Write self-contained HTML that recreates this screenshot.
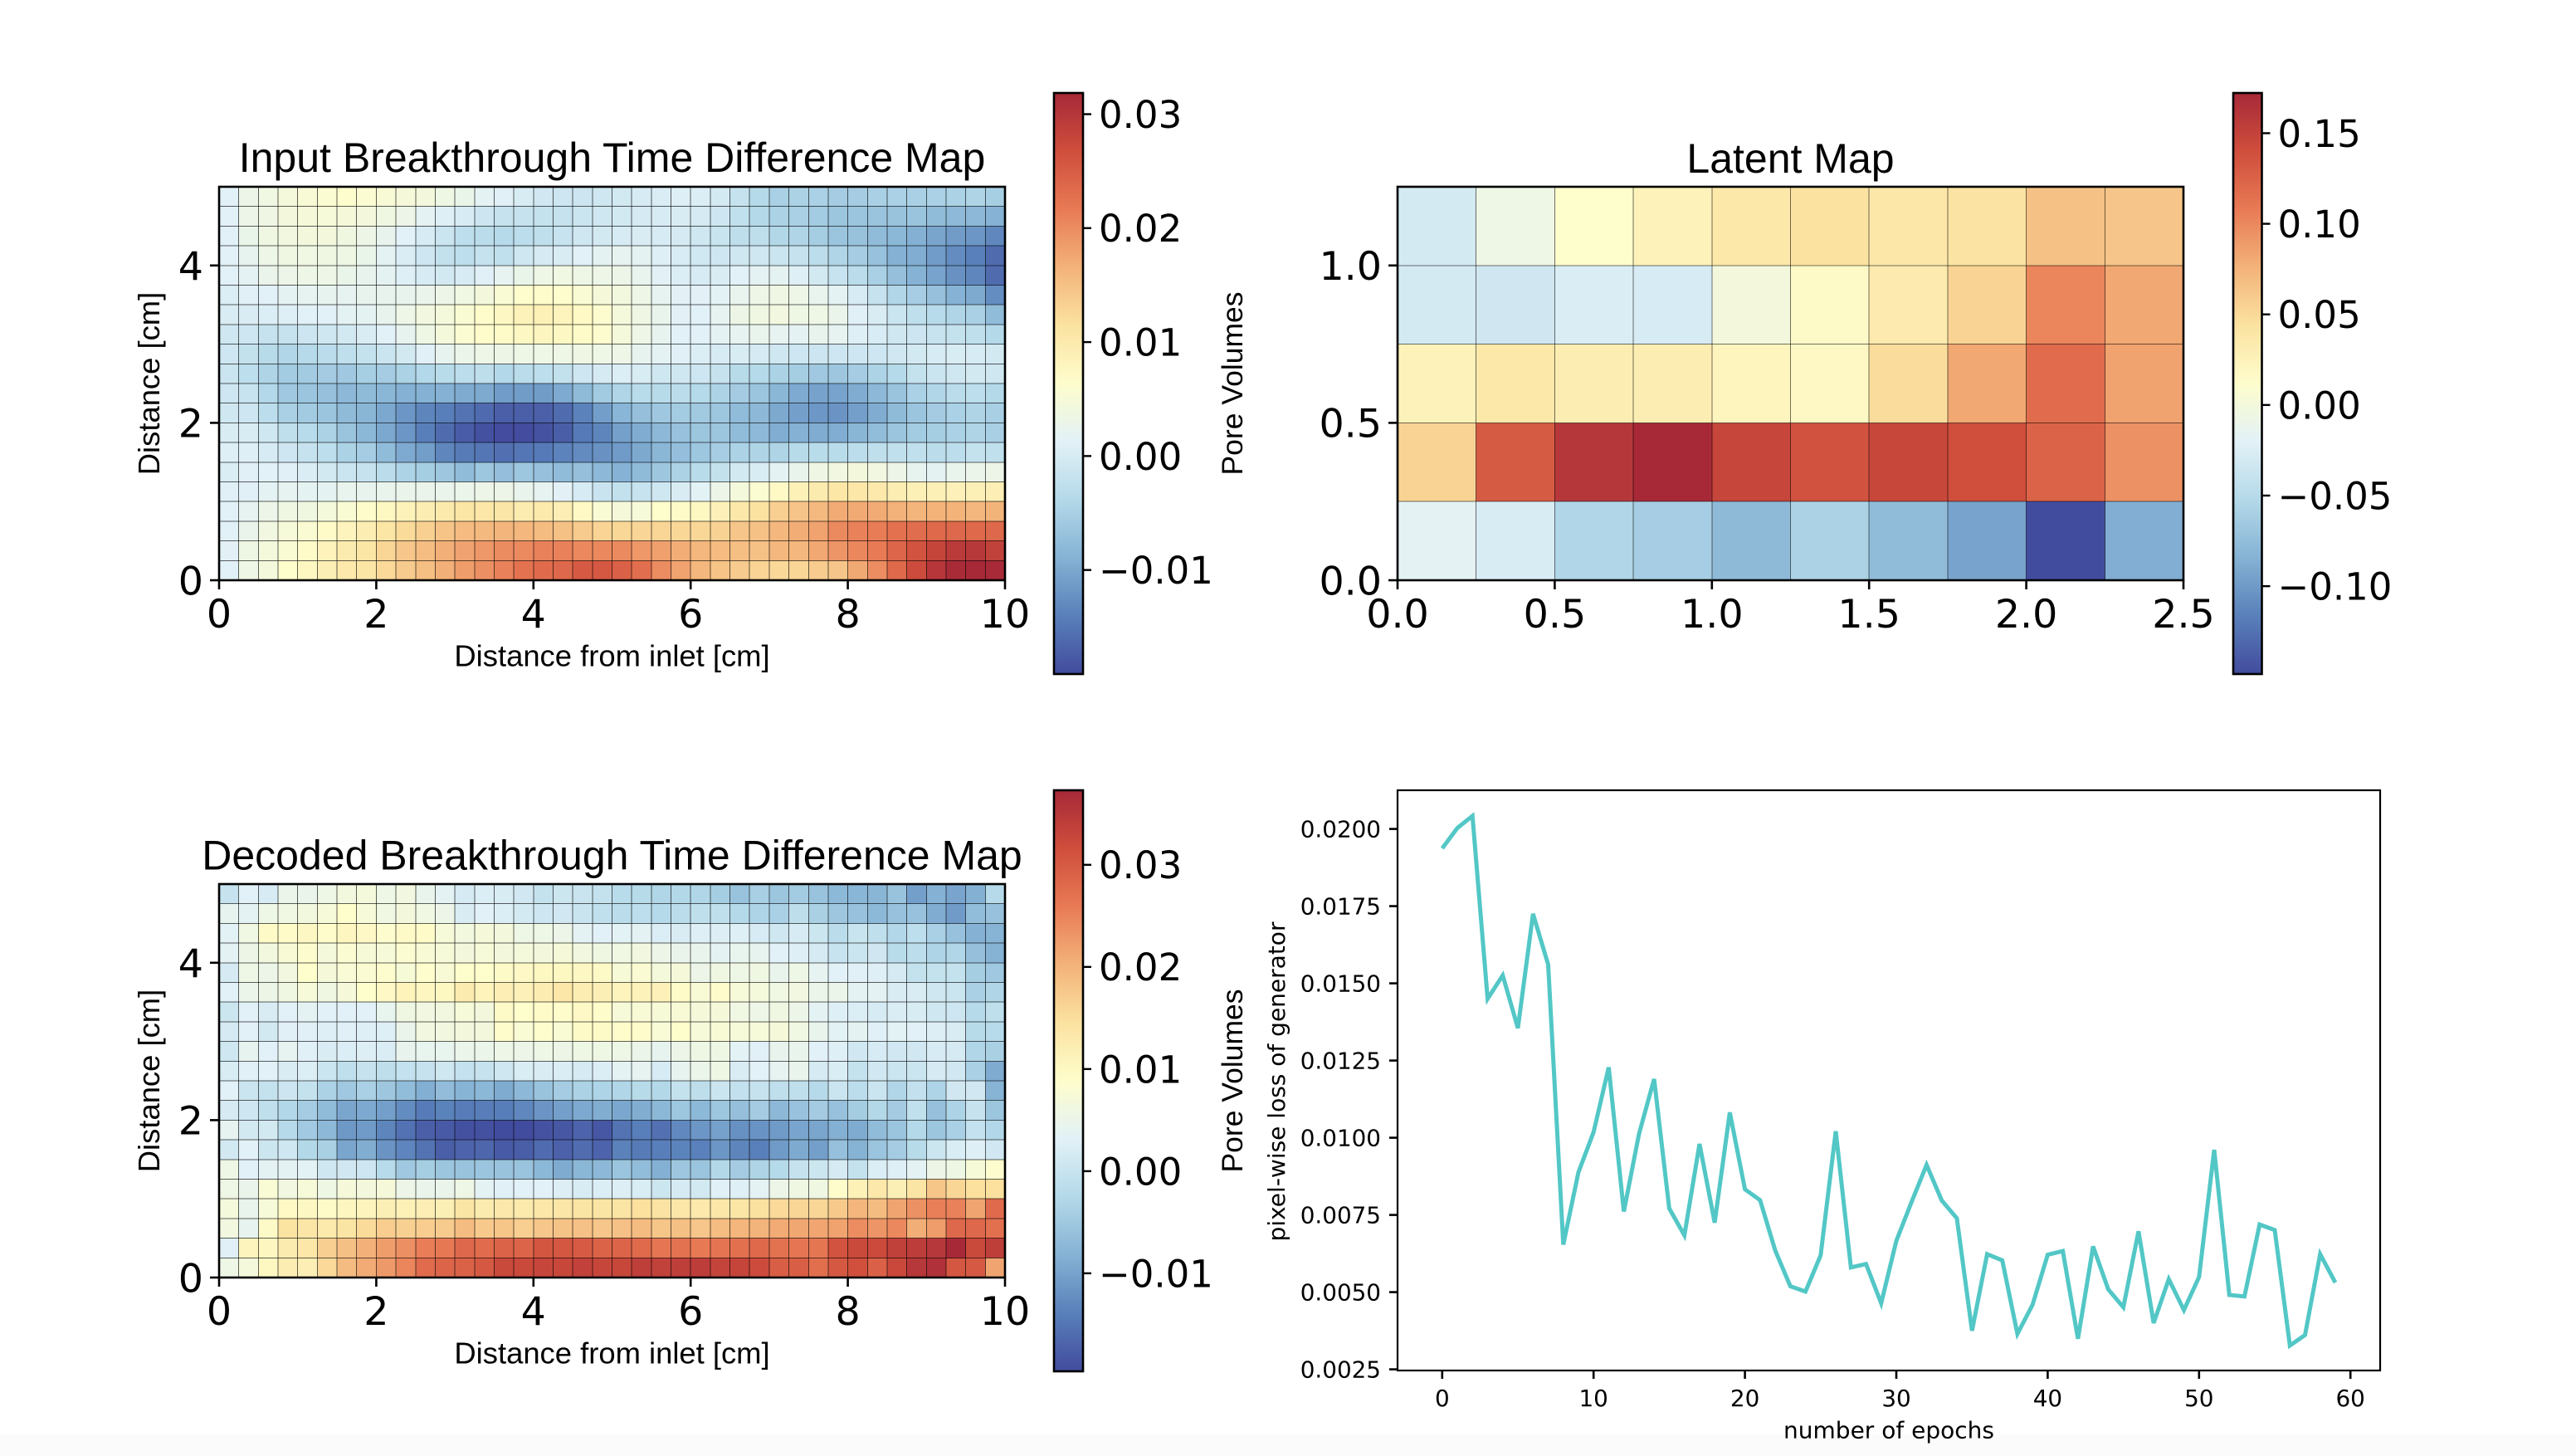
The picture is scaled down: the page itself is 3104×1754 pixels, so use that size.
<!DOCTYPE html>
<html lang="en">
<head>
<meta charset="utf-8">
<title>Breakthrough Time Difference Maps</title>
<style>
html,body{margin:0;padding:0;background:#fff;}
svg{display:block;}
.djv{font-family:"DejaVu Sans",sans-serif;fill:#000;}
.lib{font-family:"Liberation Sans",Arial,sans-serif;fill:#000;}
</style>
</head>
<body>
<svg id="figure" xmlns="http://www.w3.org/2000/svg" width="3104" height="1754" viewBox="0 0 3104 1754">
  <rect x="0" y="0" width="3104" height="1754" fill="#ffffff"/>
  <rect x="0" y="1728" width="3104" height="26" fill="#fbfbfb"/>
  <defs id="gradients"></defs>

  <g id="panel-input">
    <text class="lib" x="737.5" y="207" font-size="50" text-anchor="middle">Input Breakthrough Time Difference Map</text>
    <text class="lib" x="737.5" y="802.5" font-size="36.4" text-anchor="middle">Distance from inlet [cm]</text>
    <text class="lib" transform="translate(192,462) rotate(-90)" font-size="36.4" text-anchor="middle">Distance [cm]</text>
    <text class="lib" transform="translate(1497,462) rotate(-90)" font-size="35.5" text-anchor="middle">Pore Volumes</text>
  </g>

  <g id="panel-latent">
    <text class="lib" x="2157.5" y="208" font-size="50" text-anchor="middle">Latent Map</text>
  </g>

  <g id="panel-decoded">
    <text class="lib" x="737.5" y="1047.5" font-size="50" text-anchor="middle">Decoded Breakthrough Time Difference Map</text>
    <text class="lib" x="737.5" y="1642.5" font-size="36.4" text-anchor="middle">Distance from inlet [cm]</text>
    <text class="lib" transform="translate(192,1302) rotate(-90)" font-size="36.4" text-anchor="middle">Distance [cm]</text>
    <text class="lib" transform="translate(1497,1302) rotate(-90)" font-size="35.5" text-anchor="middle">Pore Volumes</text>
  </g>

  <g id="panel-loss">
    <text class="djv" x="2276" y="1732.5" font-size="28" text-anchor="middle">number of epochs</text>
    <text class="djv" transform="translate(1548,1303) rotate(-90)" font-size="28" text-anchor="middle">pixel-wise loss of generator</text>
  </g>
</svg>

<script>
// ---------- chart data ----------
// Input map, rows listed top to bottom, values in 0.001 pore volumes
const inputMapValues = [
[1.3,3,3.8,4.6,5.2,5.8,6.2,5.8,5.3,4.7,4.3,3.5,2.8,1.6,1.1,.2,-.6,-1,-1.2,-.9,-.5,0,.4,.8,.6,-.3,-2,-3.7,-5,-4.7,-4.9,-5.5,-5.5,-5,-4.9,-5,-4.9,-4.8,-4.5,-5.2],
[1.3,3,3.6,4.4,4.8,5,4.7,4.4,3.7,3,1.7,.8,-.1,-1.2,-2,-1.9,-2.1,-2,-1.3,-.8,-.5,-.2,0,.2,-.2,-1,-2.4,-3.8,-4.8,-5,-5.7,-6.4,-6.5,-6.7,-6.8,-6.7,-7.6,-8,-8.1,-8.8],
[1.3,2.8,3.7,4.1,4.3,4.4,3.9,3.3,2.3,1.2,-.1,-1.4,-2.8,-3.2,-3.6,-3,-2.5,-1.8,-.8,-.4,0,.3,0,-.2,-.9,-1.6,-2.7,-2.7,-4,-4.3,-5.3,-6.5,-6.9,-7.7,-8.2,-9.1,-10.3,-11.2,-11.8,-13.2],
[1.3,2.2,3.2,3.7,3.8,3.7,3.5,2.8,1.7,.4,-1,-2.2,-2.8,-2,-2.4,-.8,-.2,.3,1.2,1.9,2.1,1.9,.9,.1,-.7,-1,-.8,-.9,-1.4,-2,-3,-4.3,-5.5,-7,-9,-9.4,-11.3,-12.8,-14,-16],
[1.3,1.7,2.7,3,3.2,3.2,2.8,2.3,1.8,.9,0,-.4,0,1,2.1,2.8,3.4,3.8,3.4,3.2,3,2.4,1.4,.6,0,.3,1.2,1.7,1.8,.8,-.4,-1.8,-3.2,-5,-7.2,-8.8,-10.5,-12.2,-13.3,-16],
[.5,1.1,1.3,1.9,2,2.2,2.1,2.3,2.3,2.3,2.7,3.1,3.8,4.3,5.4,6.3,6.6,6.2,5.4,4.8,4.2,3.2,2,1.4,1.4,1.5,2.4,3.2,3.6,3.2,2.4,1.7,-.1,-1.9,-4.2,-5.4,-7.1,-8.8,-9.7,-12.7],
[.3,.3,.6,.9,1.2,1.2,1.7,1.8,2.3,3.2,4.1,4.6,5.5,6.5,7.4,8.4,8.7,8.2,7.2,6,4.6,3.6,2.5,1.4,1.2,2,3.3,3.7,4.1,3.5,3.4,2.7,1.1,.3,-1.3,-2.5,-3.5,-4.4,-5,-7.6],
[-.8,-1,-1.9,-2,-1.2,-.8,-.4,.3,1.2,2.2,3.5,4.5,5.8,6.5,6.8,7.4,7.8,7.4,6.8,6,4.6,3.2,2.2,1.3,1.3,1.7,2,2.6,2.1,1.7,2.3,2,.9,.1,-.8,-1.2,-1.8,-2.1,-2.6,-3.8],
[-1,-2.2,-3.4,-4.2,-3.6,-3.2,-2.6,-2.1,-1.3,-.4,1,2.2,2.9,3.2,3.3,3.4,3.4,3.4,3.6,3.4,3.2,2.2,1.6,1,.6,0,.2,-.2,-.8,-1.1,-1.2,-1,-1,-1.1,-.6,-.4,0,.2,0,-.5],
[-1.4,-2.8,-4.5,-5.7,-5.8,-5.6,-6,-5.2,-5.5,-4.8,-3.9,-3.3,-2.9,-2.7,-3.9,-3.2,-2.8,-2.2,-1,-.2,.5,.2,-.8,-.8,-1,-2,-3.4,-3.7,-4.8,-5.3,-6,-6.2,-5.5,-4.6,-3.7,-2.1,-1.3,-.8,-.5,-.9],
[-1,-1.7,-3.9,-6,-6.5,-7.1,-8.1,-7.8,-8.3,-9,-8.9,-8.9,-9.6,-9.7,-11.3,-11.2,-11.2,-9.8,-7.8,-5.8,-4.4,-3.3,-3.4,-3.1,-3.7,-4.6,-5.6,-6.5,-8.3,-9.8,-10.6,-10.5,-9.5,-8.1,-6.7,-4.9,-4.2,-3.2,-2.8,-3.8],
[-.8,-1.1,-3,-5,-5.8,-6.5,-7.9,-8.4,-10,-11.8,-13.4,-14.1,-15.3,-16.1,-17.2,-17.2,-17.1,-16,-13.8,-11,-8.5,-7.2,-6.1,-5.7,-5.9,-6.3,-7.7,-8.1,-9.9,-10.9,-11.7,-12,-10.9,-9.5,-7.8,-6.5,-5.6,-4.9,-4.5,-5.1],
[.2,.2,-.8,-2.5,-3.5,-4.8,-6.7,-8.2,-10,-11.8,-14.1,-16,-17.5,-18.6,-19,-19,-18.5,-17.3,-14.6,-13.4,-10.8,-9.5,-8.1,-7,-6.4,-6.4,-7.6,-8,-9.4,-9,-9.5,-9.4,-8.4,-7.5,-6.5,-5.7,-5.3,-4.9,-4.5,-5.1],
[.8,.8,0,-1,-2,-2.8,-4.8,-5.5,-7.7,-9.8,-11,-13.3,-14.5,-15,-15.6,-15,-14.6,-13.7,-12.9,-12.2,-11.4,-9.9,-8.3,-7.3,-6.3,-5.4,-4.8,-4.5,-4.5,-3.4,-3.3,-3.3,-2.9,-2.5,-2.4,-2.4,-3.1,-2.9,-2.1,-2.4],
[.4,1.1,1.2,1,.4,-.5,-1.4,-2,-3.1,-4.6,-5.3,-6.2,-7.6,-6.3,-7.3,-6.3,-7.1,-7.6,-7.2,-8.1,-8.8,-7.8,-6.2,-4.8,-3.3,-2.2,-.5,.2,1.6,2.6,3.6,4,4.3,4,3.1,2.2,1.8,2.5,2.9,3],
[1,1.1,1.7,2,1.9,1.8,2.4,2.3,2.5,2.7,2.7,2.7,2.9,3.1,3,2.5,2,1.4,-.1,-1.5,-2.2,-1.8,-.8,.3,1.5,3.1,4.5,5.8,7.2,8.7,9.8,10.6,10.5,10.2,9.4,8.8,8.8,8.6,8.8,9.2],
[1.2,2,3,3.7,3.9,4.6,5.5,6.6,7.5,8.5,9.3,10,10.8,10.5,10.7,9.6,10.1,9.2,7.2,5.4,4.7,5,6.4,6.8,7.5,8.6,10.4,11.4,13.5,14.6,15.8,17.2,17.3,17.2,16.6,16.2,16.5,16.5,16,16.4],
[1.2,2.7,4,4.9,5.7,6.7,8.1,9.3,10.8,12.2,13.4,14.7,15.6,15.8,16.2,16,15.5,15,14,13,12.6,12.7,12.8,12.6,12.6,13.2,14.5,15,16,17,18,20.3,21,21.5,22.7,23.2,23.6,23.8,23.6,23.8],
[1.4,3.5,4.5,5.5,6.7,8.3,9.7,10.8,12.8,14.4,15.4,16.8,17.9,19,20.1,20.3,21,21,20.4,20.4,20.2,19,18.2,17,16,15.6,15.3,15,16,16,17.5,19.2,20.5,21.6,24,26.2,28,29.4,29.7,28.5],
[1.2,3.4,4.6,6.4,7.5,9,10.2,10.8,12.4,14,15.3,16.8,18.5,19.7,21,22.6,23.4,23.8,25.4,25.6,24.6,23,20,18,16,14.7,14,13,12.5,12.8,13.8,14.5,17.4,20,23.6,27.2,30,31.6,32,31.7]
];

// Decoded map, rows listed top to bottom, values in 0.001 pore volumes
const decodedMapValues = [
[-.4,3.1,1.8,5,4.7,5.6,6.5,6.8,5.5,6.2,4.5,3.5,1.5,2.4,1.9,1,-.5,.5,.1,-.6,-1.9,-2,-3,-2.7,-3,-4.2,-5.8,-4,-5.4,-4.6,-5.8,-7.2,-7.7,-7.6,-5.8,-10.4,-8.2,-9.8,-8.4,-2.2],
[4.2,3.6,5.6,6,6.5,7.2,8.8,7.2,6,6.6,6,5.2,2,3.1,2.4,1.4,.6,1,.1,-.9,-1.7,-1.4,-2.4,-1.7,-1.2,-1.1,-2.5,-3.2,-3.9,-1.3,-3.8,-5.2,-6,-7.2,-6,-6,-8.9,-11,-6.6,-6],
[3.4,6,9.4,9.2,10,9,10.4,9.8,8.6,9.4,9.2,7.3,6.5,7,6.6,5.5,5.6,5.2,3.5,3.1,3.4,3.5,2.3,2,2.7,2.5,2.8,1.8,.7,1.8,.5,-1.7,0,-1.1,-2.8,-1.4,-3.9,-6,-8.2,-8],
[3.6,5.4,6.5,7.6,8.6,6.9,8.2,7.5,7.2,8.2,7.6,7.2,6.7,7.3,6.7,6.8,6.6,7,6.4,5.8,6,6.3,5.1,4.8,4.5,3.6,4.4,4.2,3.2,2.7,1.5,-.2,.2,.9,-1.9,-1.5,-3.2,-2.9,-6.3,-8.1],
[1.5,5.6,5.1,6.4,8.8,7,7.7,8,8.6,7.5,8.7,7.6,8.9,8.8,9.4,9.8,10.1,10.1,10,9.4,7.4,8,6.9,7,5.2,5.9,5.5,5.8,4.6,5.6,4,3.1,2.9,2.7,1.6,-.5,-.6,-.6,-4.2,-5],
[3.2,5,5.4,5.8,7.2,5.9,7,8.8,9.8,11,10.4,10.2,12.6,11,12,11.3,12.4,13.4,12.2,11.7,10.8,11.2,11.5,9.2,7.6,9,7.2,6.8,6,6.2,5,5,3.5,3.7,2,2,.7,.3,-3.9,-3.1],
[.5,3.1,2,3.2,3.5,3.2,3.2,3.2,4.4,5.8,6.2,6.4,7.2,6.7,9.4,8.8,9.2,9,9.8,9,7.2,7.6,7.4,7.6,7,7,6,5.3,5.9,5.1,3.5,2.8,2.3,1.7,2.2,1.9,.8,.6,-2.2,-1.2],
[1.5,3.1,1.3,3,3,2.8,2.9,2.8,2.7,4.7,6.4,6.4,6.7,6.7,9,7.8,8.7,7.8,9.4,9.4,9.1,9,7.7,8.9,7.2,7.6,7.2,7.2,7,6,4.5,3.4,3.8,3,3.4,3.1,2.5,2,-2,-2.1],
[.7,4.2,3.2,4,3,2,2.3,2.5,2.2,4.3,4.4,4.4,5,5,5.3,5.2,5.6,5.4,5.7,5.7,5.6,5,4.2,5.2,5.7,5.7,3.4,3,4.3,4.6,3.2,2.7,1,1.7,1,1,1.7,1.6,-2.9,-3.8],
[1.9,2.9,3.1,2,2.3,.2,-1.2,-.4,-1.3,-.7,-.4,.7,-.7,-.3,.7,2.1,2,2.2,1.6,2.4,3.5,4.1,1.7,4.2,5,5.7,2,3.2,4,4.6,1.6,2.1,-.6,1,.2,.2,1.6,1,-3.9,-9],
[3.2,.3,-.6,.4,-.5,-3.5,-5,-3.9,-5.2,-6.6,-8.6,-6.7,-8,-7.4,-9,-7.3,-5.8,-4.4,-3.5,-3.2,-2.9,-2,-2.6,-.6,-1.3,.2,-.8,-.3,-1.2,-1.2,-2.2,.2,-1.5,.2,-2.9,-.8,-3.2,1,1.1,-8],
[1.5,.6,-1.2,-2.8,-4.4,-6.9,-9.7,-9.2,-10.4,-12.6,-14.4,-13.6,-14.3,-14.2,-14.1,-13,-11.5,-10.4,-9.2,-8.8,-9.5,-8.8,-7.4,-5.3,-7.2,-5.3,-6.3,-4.5,-7.3,-5.9,-4.5,-6,-4.3,-2.7,-4.5,-.9,-6.2,-3.4,-.3,-5.4],
[4,1.3,1.3,-2.3,-4.8,-7.3,-11.2,-11,-13.2,-15.4,-17.4,-18,-19,-19,-19.5,-19.5,-18.9,-18.3,-17,-18.3,-15.3,-14,-15.5,-12.9,-11.4,-10.2,-12,-11.8,-11,-9.8,-9.7,-8.4,-9,-6.8,-5.6,-2.5,-5.4,-3.9,-.7,-2.8],
[1.3,3.1,.5,.8,-2.6,-3.8,-9.7,-8.8,-11.6,-13.3,-15.3,-17.5,-17,-16.7,-18,-17.6,-16.2,-17.2,-15.9,-17,-13.7,-14.5,-14,-13.5,-13.8,-11.4,-13.2,-13.9,-11,-9.1,-10.4,-6.2,-8.1,-5.6,-4.4,-2,.5,2.1,2.8,1],
[5.5,3.1,3.5,3.7,3.4,.8,1,.6,-2.1,-5,-4.2,-5.4,-5.8,-5.5,-5.8,-5.7,-7.4,-9,-7.5,-7.3,-5.5,-6.6,-8.4,-5.2,-5.6,-2.6,-4.5,-3.3,-2.4,-.4,.5,1.6,-.5,2.3,2.7,3.5,5.4,5.7,7.4,8.4],
[5.6,4.8,7.8,6.2,7.2,5.7,7,6.7,7,5.2,4.7,4.7,5.6,3.6,3,3.1,3.1,2.5,1.9,2.4,2.5,2.1,.5,1.5,1.2,3,2.7,3.5,5.2,5.9,5.9,9,11.4,13.3,11.7,14,18,16,14.8,14.8],
[6.8,4.6,7.3,9.7,10,9.3,10.4,10.8,11.8,11.4,12,11.8,14,12.6,13.3,12.8,13.5,13.6,14,14,14,14.8,14.2,13.4,13.1,13.4,13.8,14.6,15.6,16,16,17.4,19.8,19,21.6,23.6,25.4,25.2,21.6,28],
[6.4,4.2,9.4,14.3,13.6,13,14,15.4,17,16.6,17,17.3,19,17.4,18,16.8,17.8,18.2,18.4,17.8,18.4,19,18,18.6,17.8,18.9,19.8,20,20.9,21.3,21.4,21.8,24,23.2,24.5,20.6,22.4,28.2,28.3,27.2],
[2.9,10.8,10.4,12.6,13.4,16.8,18.6,20.3,22.4,23.8,25.6,26.2,28.2,27.8,28.8,28.6,30.6,30.4,29.9,28.8,28.6,28,26.4,27,26,26.6,27.2,28.1,27,26.4,26.5,31,32.4,32.2,33.8,34.2,35,37.3,32.4,34],
[5.6,6.8,10.2,12.2,12,15.6,19,20.9,22.8,24.8,27.8,28.6,29,30.2,32.4,32.4,32.8,32.7,33.4,32.8,32.7,34,33.6,34,34.2,33.2,33,32,29.6,29.5,27.4,30.2,31.4,29.2,32.5,35,36,30.4,30.1,21.6]
];

// Latent map, rows listed top to bottom, values in pore volumes
const latentMapValues = [
[-.03,-.007,.012,.025,.037,.044,.038,.042,.066,.063],
[-.03,-.033,-.026,-.028,-.001,.015,.034,.054,.102,.082],
[.025,.037,.03,.031,.022,.018,.047,.082,.118,.085],
[.054,.131,.16,.172,.147,.137,.146,.14,.125,.095],
[-.017,-.027,-.055,-.062,-.078,-.058,-.076,-.094,-.148,-.087]
];

// Generator loss per epoch
const lossValues = [
.01937,.02003,.02042,.0145,.01526,.01355,.01725,.01561,.00654,.00888,
.01018,.01228,.00761,.01012,.0119,.00771,.00684,.0098,.00725,.01082,
.00833,.00798,.00635,.00519,.00502,.00619,.01021,.00580,.00591,.00464,
.00666,.00791,.00912,.00797,.00739,.00375,.00623,.00603,.00365,.00459,
.00621,.00633,.00349,.00648,.00509,.00451,.00697,.004,.00542,.00442,
.00549,.00961,.00491,.00486,.00719,.00701,.00327,.00361,.00623,.00531
];

// Axis tick values
const distanceXTicks = [0,2,4,6,8,10];
const distanceYTicks = [0,2,4];
const latentXTicks = [0,0.5,1,1.5,2,2.5];
const latentYTicks = [0,0.5,1];
const inputColorbarTicks = [-0.01,0,0.01,0.02,0.03];
const decodedColorbarTicks = [-0.01,0,0.01,0.02,0.03];
const latentColorbarTicks = [-0.10,-0.05,0,0.05,0.10,0.15];
const lossXTicks = [0,10,20,30,40,50,60];
const lossYTicks = [0.0025,0.0050,0.0075,0.0100,0.0125,0.0150,0.0175,0.0200];

// Colour scale limits
const inputColorLimits = [-0.01913,0.03186];
const decodedColorLimits = [-0.0196,0.0373];
const latentColorLimits = [-0.1485,0.1722];

// Colormap anchors as seen in the picture (muted blue-yellow-red)
const colormapAnchors = [[66,75,158],[89,128,186],[133,178,212],[180,217,233],[226,241,247],[254,253,204],[251,226,160],[243,178,121],[232,122,85],[207,78,60],[167,41,56]];

// ---------- drawing helpers ----------
const SVGNS = 'http://www.w3.org/2000/svg';
const TICK_FONT = 47.5;

function mk(parent, tag, attrs, text) {
  const el = document.createElementNS(SVGNS, tag);
  for (const k in attrs) el.setAttribute(k, attrs[k]);
  if (text !== undefined) el.textContent = text;
  parent.appendChild(el);
  return el;
}
function colorAt(t) {
  const c = Math.max(0, Math.min(1, t)) * (colormapAnchors.length - 1);
  const i = Math.min(colormapAnchors.length - 2, Math.floor(c));
  const f = c - i, a = colormapAnchors[i], b = colormapAnchors[i + 1];
  return 'rgb(' + [0, 1, 2].map(function (k) { return Math.round(a[k] + (b[k] - a[k]) * f); }).join(',') + ')';
}
function linear(d0, d1, r0, r1) {
  return function (v) { return r0 + (v - d0) / (d1 - d0) * (r1 - r0); };
}
function fmt(v, decimals) {
  return v.toFixed(decimals).replace('-', '\u2212');
}
function drawXTicks(g, name, ticks, sx, yBase, fontSize, decimals, labelBaseline, tickLen) {
  ticks.forEach(function (t) {
    const line = mk(g, 'line', { x1: sx(t), x2: sx(t), y1: yBase, y2: yBase + tickLen, stroke: '#000', 'stroke-width': 2.6 });
    
    
    const label = mk(g, 'text', { x: sx(t), y: labelBaseline, 'font-size': fontSize, 'text-anchor': 'middle', class: 'djv' }, fmt(t, decimals));
    
    
  });
}
function drawYTicks(g, name, ticks, sy, xBase, fontSize, decimals, labelGap, tickLen) {
  ticks.forEach(function (t) {
    const line = mk(g, 'line', { x1: xBase - tickLen, x2: xBase, y1: sy(t), y2: sy(t), stroke: '#000', 'stroke-width': 2.6 });
    
    
    const label = mk(g, 'text', { x: xBase - labelGap, y: sy(t) + fontSize * 0.3645, 'font-size': fontSize, 'text-anchor': 'end', class: 'djv' }, fmt(t, decimals));
    
    
  });
}
function drawHeatmap(g, name, rows, limits, box, xDomain, yDomain, xTicks, yTicks, decimals, gridOpacity) {
  const nRows = rows.length, nCols = rows[0].length;
  const sx = linear(xDomain[0], xDomain[1], box.x0, box.x1);
  const sy = linear(yDomain[0], yDomain[1], box.y1, box.y0);
  const dx = (xDomain[1] - xDomain[0]) / nCols, dy = (yDomain[1] - yDomain[0]) / nRows;
  const cellsGroup = mk(g, 'g', {});
  
  
  rows.forEach(function (row, r) {
    const yTop = yDomain[1] - r * dy;
    row.forEach(function (v, c) {
      const t = (v * box.unit - limits[0]) / (limits[1] - limits[0]);
      const px = sx(xDomain[0] + c * dx), py = sy(yTop);
      const cell = mk(cellsGroup, 'rect', { x: px, y: py, width: sx(xDomain[0] + (c + 1) * dx) - px, height: sy(yTop - dy) - py, fill: colorAt(t), 'shape-rendering': 'crispEdges' });
      
      
    });
  });
  const gridGroup = mk(g, 'g', { stroke: '#000', 'stroke-width': 1, 'stroke-opacity': gridOpacity, 'shape-rendering': 'crispEdges' });
  
  
  for (let c = 1; c < nCols; c++) {
    const gx = sx(xDomain[0] + c * dx);
    mk(gridGroup, 'line', { x1: gx, x2: gx, y1: box.y0, y2: box.y1 });
  }
  for (let r = 1; r < nRows; r++) {
    const gy = sy(yDomain[0] + r * dy);
    mk(gridGroup, 'line', { x1: box.x0, x2: box.x1, y1: gy, y2: gy });
  }
  const frame = mk(g, 'rect', { x: box.x0, y: box.y0, width: box.x1 - box.x0, height: box.y1 - box.y0, fill: 'none', stroke: '#000', 'stroke-width': 2.6 });
  
  
  drawXTicks(g, name, xTicks, sx, box.y1, TICK_FONT, decimals, box.y1 + 57, 11);
  drawYTicks(g, name, yTicks, sy, box.x0, TICK_FONT, decimals, 19, 11);
}
function drawColorbar(g, name, id, ticks, limits, box, decimals) {
  const defs = document.getElementById('gradients');
  const grad = mk(defs, 'linearGradient', { id: id, x1: 0, x2: 0, y1: 1, y2: 0 });
  colormapAnchors.forEach(function (a, i) {
    const off = i / (colormapAnchors.length - 1);
    mk(grad, 'stop', { offset: off, 'stop-color': colorAt(off) });
  });
  const bar = mk(g, 'rect', { x: box.x0, y: box.y0, width: box.x1 - box.x0, height: box.y1 - box.y0, fill: 'url(#' + id + ')', stroke: '#000', 'stroke-width': 2.6 });
  
  
  const sy = linear(limits[0], limits[1], box.y1, box.y0);
  ticks.forEach(function (t) {
    const line = mk(g, 'line', { x1: box.x1, x2: box.x1 + 10, y1: sy(t), y2: sy(t), stroke: '#000', 'stroke-width': 2.4 });
    
    
    const label = mk(g, 'text', { x: box.x1 + 19, y: sy(t) + 16.4, 'font-size': 45, class: 'djv' }, fmt(t, decimals));
    
    
  });
}

// ---------- panels ----------
const inputBox = { x0: 264, x1: 1211, y0: 225, y1: 699, unit: 0.001 };
const decodedBox = { x0: 264, x1: 1211, y0: 1065, y1: 1539, unit: 0.001 };
const latentBox = { x0: 1684, x1: 2631, y0: 225, y1: 699, unit: 1 };

const panelInput = document.getElementById('panel-input');
const panelDecoded = document.getElementById('panel-decoded');
const panelLatent = document.getElementById('panel-latent');
const panelLoss = document.getElementById('panel-loss');

drawHeatmap(panelInput, 'input-map', inputMapValues, inputColorLimits, inputBox, [0, 10], [0, 5], distanceXTicks, distanceYTicks, 0, 0.62);
drawHeatmap(panelDecoded, 'decoded-map', decodedMapValues, decodedColorLimits, decodedBox, [0, 10], [0, 5], distanceXTicks, distanceYTicks, 0, 0.62);
drawHeatmap(panelLatent, 'latent-map', latentMapValues, latentColorLimits, latentBox, [0, 2.5], [0, 1.25], latentXTicks, latentYTicks, 1, 0.55);

drawColorbar(panelInput, 'input-colorbar', 'grad-input', inputColorbarTicks, inputColorLimits, { x0: 1270, x1: 1305, y0: 112, y1: 812 }, 2);
drawColorbar(panelDecoded, 'decoded-colorbar', 'grad-decoded', decodedColorbarTicks, decodedColorLimits, { x0: 1270, x1: 1305, y0: 952, y1: 1652 }, 2);
drawColorbar(panelLatent, 'latent-colorbar', 'grad-latent', latentColorbarTicks, latentColorLimits, { x0: 2691, x1: 2725.5, y0: 112, y1: 812 }, 2);

// Loss line chart
(function () {
  const box = { x0: 1684, x1: 2868, y0: 952, y1: 1651 };
  const sx = linear(0, 60, 1737.8, 2832.2);
  const sy = linear(0.02, 0.0025, 998.6, 1649.6);
  const pts = lossValues.map(function (v, i) { return sx(i) + ',' + sy(v); }).join(' ');
  const line = mk(panelLoss, 'polyline', { points: pts, fill: 'none', stroke: '#52c7c6', 'stroke-width': 5, 'stroke-linejoin': 'miter', 'stroke-miterlimit': 4 });
  
  
  const frame = mk(panelLoss, 'rect', { x: box.x0, y: box.y0, width: box.x1 - box.x0, height: box.y1 - box.y0, fill: 'none', stroke: '#000', 'stroke-width': 2.2 });
  
  
  drawXTicks(panelLoss, 'loss-chart', lossXTicks, sx, box.y1, 27.8, 0, 1694, 10);
  drawYTicks(panelLoss, 'loss-chart', lossYTicks, sy, box.x0, 27.8, 4, 20, 10);
})();
</script>
</body>
</html>
